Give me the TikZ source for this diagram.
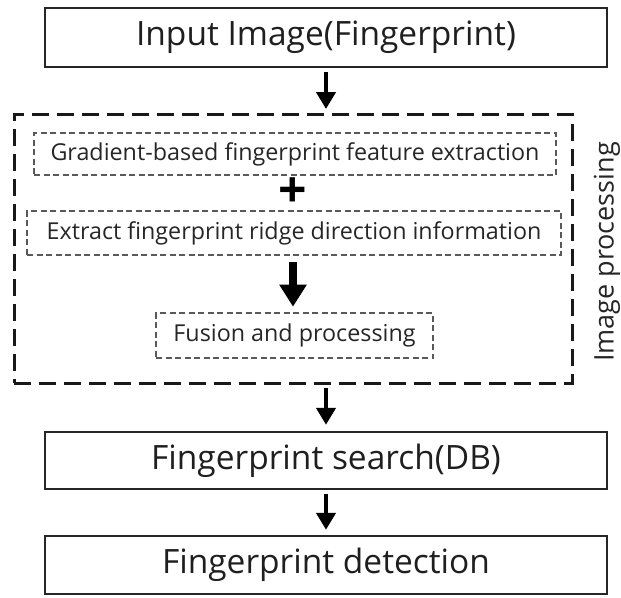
\documentclass[tikz,border=0pt]{standalone}
\usepackage{fontspec}
\setmainfont{Open Sans}
\usetikzlibrary{arrows.meta}

\tikzset{
  hauptbox/.style={draw=black!85, line width=2.4pt, minimum width=562pt, inner sep=0pt, text=black!88, font=\fontsize{33.5}{36}\selectfont},
  teilbox/.style={draw=black!65, dash pattern=on 6pt off 3.5pt, line width=1.6pt, inner sep=0pt, text=black!85, font=\fontsize{23.3}{26}\selectfont},
  rahmen/.style={draw=black!90, dash pattern=on 17pt off 8pt, line width=3pt},
  pfeil/.style={line width=4.5pt, -{Triangle[width=19pt,length=17pt]}},
  dickpfeil/.style={line width=8pt, -{Triangle[width=26pt,length=22pt]}}
}

\begin{document}
\begin{tikzpicture}[x=1pt,y=-1pt]
  \useasboundingbox (0,0) rectangle (621,597);

  % Eingabe
  \node[hauptbox, minimum height=59pt] (eingabe) at (326,37.5) {Input Image(Fingerprint)};

  % Rahmen der Bildverarbeitung
  \node[rahmen, minimum width=558pt, minimum height=269pt] (bild) at (293,248.5) {};
  \node[rotate=90, text=black!85, font=\fontsize{27}{30}\selectfont] (bildtext) at (607,252) {Image processing};

  % Teilschritte im Rahmen
  \node[teilbox, minimum width=522pt, minimum height=42pt] (gradient) at (295,154) {Gradient-based fingerprint feature extraction};
  \node[font=\fontsize{50}{50}\selectfont\bfseries] (plus) at (293,193) {+};
  \node[teilbox, minimum width=534pt, minimum height=44pt] (richtung) at (294,233) {Extract fingerprint ridge direction information};
  \node[teilbox, minimum width=277pt, minimum height=45pt] (fusion) at (294.5,335.5) {Fusion and processing};

  % Suche und Erkennung
  \node[hauptbox, minimum height=57pt] (suche) at (326,460.5) {Fingerprint search(DB)};
  \node[hauptbox, minimum height=58pt] (erkennung) at (326,565) {Fingerprint detection};

  % Pfeile
  \draw[pfeil, shorten <=4pt, shorten >=3.5pt] (eingabe.south) -- (eingabe.south |- bild.north);
  \draw[dickpfeil, shorten <=6.5pt, shorten >=5.5pt] (richtung.south -| plus) -- (fusion.north -| plus);
  \draw[pfeil, shorten <=3.5pt, shorten >=6pt] (bild.south -| eingabe) -- (suche.north);
  \draw[pfeil, shorten <=4pt, shorten >=5pt] (suche.south) -- (erkennung.north);
\end{tikzpicture}
\end{document}
